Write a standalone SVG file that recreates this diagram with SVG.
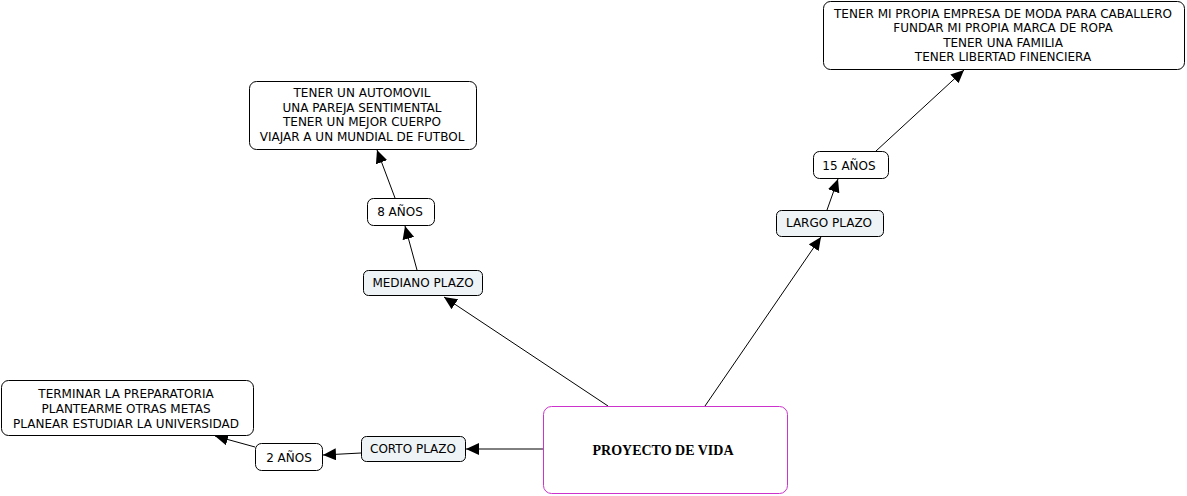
<svg xmlns="http://www.w3.org/2000/svg" width="1187" height="496" viewBox="0 0 1187 496">
<style>
.n{fill:#ffffff;stroke:#000;stroke-width:1}
.c{fill:#eef3f5;stroke:#000;stroke-width:1}
.m{fill:#ffffff;stroke:#cc33cc;stroke-width:1}
text{font-family:"DejaVu Sans",Verdana,sans-serif;font-size:12px;fill:#000;text-anchor:middle}
.t{font-family:"Liberation Serif","Times New Roman",serif;font-weight:bold;font-size:14px}
.e{stroke:#000;stroke-width:1;fill:none;marker-end:url(#a)}
</style>
<defs>
<marker id="a" markerWidth="14" markerHeight="12" refX="13" refY="6" orient="auto" markerUnits="userSpaceOnUse">
<path d="M0,0 L13,6 L0,12 z" fill="#000"/>
</marker>
</defs>
<rect width="1187" height="496" fill="#fff"/>
<g id="connectors">
<line class="e" x1="543" y1="449" x2="466" y2="449"/>
<line class="e" x1="361" y1="453" x2="323" y2="455"/>
<line class="e" x1="255" y1="447" x2="215" y2="436"/>
<line class="e" x1="608" y1="406" x2="444" y2="297"/>
<line class="e" x1="417" y1="270" x2="405" y2="226"/>
<line class="e" x1="395" y1="198" x2="377" y2="150"/>
<line class="e" x1="705" y1="406" x2="821" y2="237"/>
<line class="e" x1="827" y1="210" x2="838" y2="179"/>
<line class="e" x1="876" y1="151" x2="964" y2="70"/>
</g>
<g id="proyecto">
<rect class="m" x="543.5" y="406.5" width="244" height="87" rx="8"/>
<text class="t" x="663" y="455">PROYECTO DE VIDA</text>
</g>
<g id="corto">
<rect class="c" x="361.5" y="436.5" width="104" height="25" rx="5"/>
<text x="413" y="453">CORTO PLAZO</text>
</g>
<g id="anos2">
<rect class="n" x="255.5" y="443.5" width="67" height="27" rx="6"/>
<text x="289" y="462">2 AÑOS</text>
</g>
<g id="metas-corto">
<rect class="n" x="1.5" y="380.5" width="252" height="55" rx="7"/>
<text x="126" y="398">TERMINAR LA PREPARATORIA</text>
<text x="126" y="413">PLANTEARME OTRAS METAS</text>
<text x="126" y="428">PLANEAR ESTUDIAR LA UNIVERSIDAD</text>
</g>
<g id="mediano">
<rect class="c" x="363.5" y="270.5" width="119" height="25" rx="5"/>
<text x="423" y="287">MEDIANO PLAZO</text>
</g>
<g id="anos8">
<rect class="n" x="367.5" y="198.5" width="67" height="27" rx="6"/>
<text x="400" y="216">8 AÑOS</text>
</g>
<g id="metas-mediano">
<rect class="n" x="249.5" y="81.5" width="227" height="68" rx="7"/>
<text x="362" y="97">TENER UN AUTOMOVIL</text>
<text x="362" y="112">UNA PAREJA SENTIMENTAL</text>
<text x="362" y="126">TENER UN MEJOR CUERPO</text>
<text x="362" y="141">VIAJAR A UN MUNDIAL DE FUTBOL</text>
</g>
<g id="largo">
<rect class="c" x="776.5" y="210.5" width="107" height="26" rx="5"/>
<text x="829" y="227">LARGO PLAZO</text>
</g>
<g id="anos15">
<rect class="n" x="813.5" y="151.5" width="75" height="27" rx="6"/>
<text x="849" y="170">15 AÑOS</text>
</g>
<g id="metas-largo">
<rect class="n" x="823.5" y="1.5" width="361" height="68" rx="7"/>
<text x="1003" y="18">TENER MI PROPIA EMPRESA DE MODA PARA CABALLERO</text>
<text x="1003" y="32">FUNDAR MI PROPIA MARCA DE ROPA</text>
<text x="1003" y="47">TENER UNA FAMILIA</text>
<text x="1003" y="61">TENER LIBERTAD FINENCIERA</text>
</g>
</svg>
